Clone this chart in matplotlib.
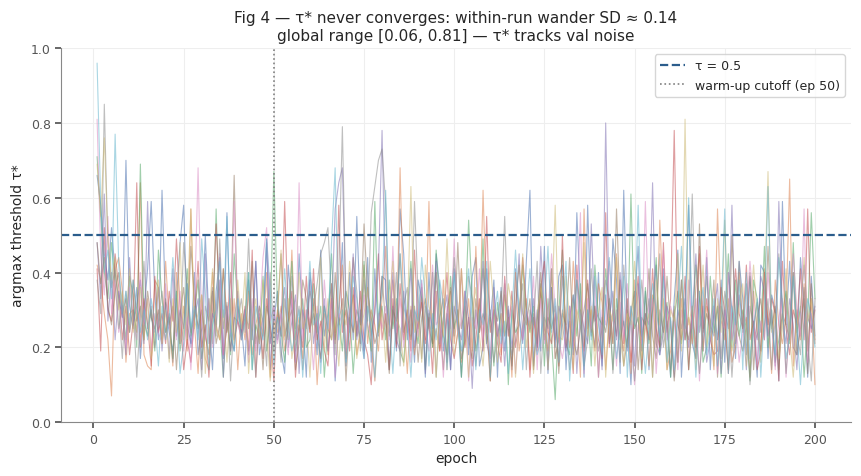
import matplotlib
matplotlib.use("Agg")
import matplotlib.pyplot as plt
import numpy as np
import seaborn as sns

# tau* per epoch for each of the 10 runs, in hundredths
run_0 = [66, 58, 45, 38, 52, 40, 33, 28, 70, 31, 25, 36, 17, 29, 41, 59, 34, 22, 62, 30,
         24, 19, 33, 48, 58, 26, 21, 40, 18, 25, 50, 27, 14, 35, 44, 17, 56, 23, 19, 31,
         26, 15, 38, 22, 43, 18, 24, 49, 21, 27, 35, 19, 13, 42, 30, 16, 45, 28, 12, 40,
         31, 18, 46, 23, 29, 37, 11, 27, 48, 15, 40, 22, 55, 28, 19, 44, 16, 41, 23, 39,
         38, 14, 31, 19, 57, 45, 22, 30, 16, 38, 33, 12, 40, 21, 45, 36, 19, 29, 14, 41,
         27, 12, 35, 18, 39, 44, 15, 20, 41, 27, 38, 12, 36, 19, 30, 14, 41, 28, 21, 43,
         62, 15, 30, 19, 47, 13, 36, 20, 39, 42, 14, 31, 18, 56, 33, 12, 58, 27, 20, 40,
         15, 34, 21, 49, 38, 13, 62, 26, 10, 31, 47, 19, 35, 14, 30, 42, 18, 41, 25, 12,
         33, 46, 12, 30, 58, 21, 17, 35, 19, 44, 14, 31, 22, 38, 16, 40, 30, 17, 43, 33,
         18, 39, 25, 12, 42, 40, 17, 34, 30, 11, 59, 26, 43, 20, 18, 44, 31, 12, 39, 23]
run_1 = [42, 38, 29, 22, 7, 41, 44, 35, 16, 29, 30, 24, 64, 18, 15, 14, 38, 36, 22, 43,
         27, 15, 40, 21, 31, 19, 57, 26, 13, 34, 17, 14, 40, 26, 22, 41, 28, 19, 33, 14,
         29, 22, 35, 18, 26, 31, 23, 40, 12, 27, 24, 31, 19, 25, 46, 22, 28, 17, 30, 24,
         33, 10, 26, 29, 18, 37, 24, 31, 42, 17, 29, 34, 18, 25, 42, 21, 30, 26, 19, 33,
         47, 24, 38, 21, 68, 29, 13, 31, 18, 26, 33, 22, 59, 20, 25, 19, 38, 14, 35, 21,
         30, 16, 22, 33, 19, 47, 24, 62, 29, 11, 31, 25, 18, 34, 27, 12, 40, 19, 26, 33,
         14, 29, 21, 36, 25, 19, 41, 17, 23, 30, 26, 20, 43, 28, 12, 57, 25, 30, 19, 37,
         32, 14, 28, 21, 45, 26, 19, 30, 13, 38, 27, 22, 29, 15, 34, 20, 54, 31, 14, 19,
         30, 16, 33, 22, 28, 21, 36, 45, 19, 31, 27, 14, 57, 29, 22, 33, 16, 20, 40, 25,
         28, 12, 35, 24, 19, 41, 27, 13, 38, 26, 21, 29, 65, 15, 30, 22, 37, 19, 33, 10]
run_2 = [71, 55, 40, 33, 48, 37, 25, 31, 22, 39, 34, 20, 69, 27, 23, 30, 19, 46, 33, 24,
         28, 17, 35, 19, 26, 41, 23, 29, 38, 17, 24, 33, 21, 57, 26, 12, 30, 18, 45, 31,
         23, 28, 40, 14, 26, 22, 39, 19, 27, 67, 31, 24, 16, 28, 43, 19, 26, 33, 20, 22,
         37, 24, 31, 12, 26, 45, 22, 28, 19, 35, 30, 13, 27, 21, 43, 26, 19, 59, 24, 31,
         22, 38, 25, 33, 19, 16, 30, 43, 27, 21, 36, 14, 29, 20, 46, 31, 23, 18, 39, 25,
         30, 12, 27, 54, 33, 19, 26, 49, 21, 28, 15, 32, 23, 37, 10, 30, 24, 26, 42, 29,
         24, 31, 20, 37, 15, 33, 22, 6, 29, 46, 21, 18, 34, 23, 37, 20, 30, 15, 42, 28,
         26, 41, 29, 14, 33, 22, 27, 20, 61, 25, 28, 13, 36, 21, 30, 44, 19, 27, 32, 12,
         28, 35, 21, 30, 14, 27, 42, 33, 16, 20, 39, 24, 31, 12, 27, 45, 20, 38, 23, 30,
         25, 11, 38, 33, 24, 47, 20, 30, 16, 22, 29, 35, 21, 48, 24, 31, 12, 27, 56, 33]
run_3 = [41, 19, 52, 30, 27, 45, 36, 22, 31, 18, 27, 64, 20, 33, 26, 15, 39, 24, 29, 21,
         35, 27, 49, 31, 14, 22, 16, 28, 43, 20, 26, 12, 29, 53, 31, 18, 25, 40, 22, 27,
         24, 31, 19, 46, 12, 29, 17, 33, 25, 11, 30, 23, 59, 27, 35, 12, 26, 20, 39, 24,
         41, 22, 27, 19, 15, 33, 21, 58, 24, 30, 19, 36, 23, 35, 22, 18, 10, 31, 45, 22,
         29, 14, 33, 20, 37, 22, 30, 19, 46, 25, 32, 21, 28, 13, 35, 19, 26, 40, 22, 17,
         24, 41, 20, 28, 15, 22, 33, 19, 55, 24, 30, 21, 16, 39, 23, 35, 20, 27, 44, 31,
         12, 28, 19, 36, 43, 24, 21, 29, 15, 50, 20, 27, 13, 42, 26, 19, 38, 24, 31, 22,
         17, 56, 20, 30, 23, 38, 21, 33, 16, 29, 39, 14, 27, 22, 41, 25, 20, 48, 24, 33,
         78, 26, 22, 39, 14, 31, 20, 47, 25, 33, 22, 18, 19, 36, 30, 13, 27, 41, 29, 25,
         42, 22, 27, 14, 19, 40, 26, 33, 29, 11, 43, 25, 18, 30, 26, 41, 22, 57, 24, 30]
run_4 = [48, 33, 61, 27, 40, 22, 35, 29, 18, 44, 26, 31, 38, 21, 59, 28, 24, 36, 19, 32,
         17, 41, 23, 30, 25, 37, 20, 28, 33, 14, 45, 21, 29, 26, 38, 12, 31, 19, 27, 35,
         23, 30, 18, 26, 43, 21, 28, 48, 14, 31, 22, 29, 36, 20, 27, 34, 13, 30, 25, 38,
         21, 29, 16, 33, 19, 28, 57, 64, 68, 31, 24, 45, 22, 30, 17, 36, 23, 29, 41, 78,
         33, 26, 40, 22, 19, 35, 24, 41, 20, 27, 38, 13, 30, 25, 43, 21, 28, 34, 14, 31,
         26, 22, 35, 28, 9, 30, 24, 43, 21, 17, 36, 23, 29, 15, 31, 20, 28, 45, 22, 30,
         25, 33, 20, 47, 29, 14, 36, 22, 31, 26, 19, 28, 34, 13, 30, 25, 21, 53, 27, 29,
         14, 80, 28, 35, 22, 40, 26, 19, 31, 15, 37, 23, 29, 26, 64, 21, 18, 24, 31, 27,
         12, 30, 25, 33, 20, 28, 45, 24, 31, 16, 22, 29, 37, 13, 30, 25, 58, 21, 34, 27,
         14, 31, 26, 22, 39, 35, 23, 30, 15, 59, 28, 21, 33, 26, 14, 30, 42, 28, 25, 31]
run_5 = [48, 37, 44, 31, 26, 35, 40, 29, 33, 24, 38, 27, 31, 22, 35, 28, 25, 30, 21, 33,
         26, 31, 14, 29, 36, 22, 47, 33, 25, 30, 23, 18, 35, 21, 26, 41, 24, 29, 66, 27,
         22, 30, 25, 43, 21, 28, 14, 31, 26, 19, 29, 45, 23, 27, 30, 14, 21, 38, 33, 25,
         29, 23, 17, 31, 25, 22, 40, 26, 33, 11, 28, 24, 30, 26, 53, 35, 28, 21, 25, 39,
         26, 13, 30, 27, 45, 24, 29, 22, 31, 16, 28, 33, 25, 21, 40, 27, 14, 29, 36, 23,
         48, 25, 31, 22, 17, 33, 24, 29, 26, 11, 30, 27, 35, 23, 28, 15, 31, 42, 29, 26,
         33, 14, 27, 40, 22, 28, 25, 31, 13, 29, 26, 44, 22, 18, 25, 30, 37, 23, 31, 12,
         28, 24, 33, 21, 57, 30, 15, 22, 29, 35, 14, 28, 26, 41, 23, 17, 30, 24, 39, 25,
         11, 23, 38, 26, 22, 30, 17, 53, 24, 29, 25, 38, 12, 31, 26, 14, 50, 27, 23, 19,
         26, 40, 14, 28, 33, 22, 47, 25, 31, 14, 29, 26, 22, 40, 18, 25, 33, 13, 37, 21]
run_6 = [81, 45, 34, 55, 29, 38, 24, 31, 20, 36, 27, 22, 40, 26, 33, 19, 29, 24, 21, 37,
         25, 30, 22, 35, 19, 28, 14, 31, 68, 26, 22, 33, 20, 29, 45, 18, 31, 24, 59, 27,
         22, 30, 16, 33, 19, 28, 44, 52, 27, 31, 21, 29, 25, 18, 33, 16, 64, 22, 30, 27,
         14, 31, 20, 38, 25, 33, 12, 29, 26, 19, 30, 44, 28, 21, 34, 26, 23, 11, 29, 25,
         31, 22, 47, 24, 33, 20, 29, 16, 30, 23, 37, 25, 19, 42, 26, 28, 12, 31, 25, 49,
         23, 27, 35, 11, 28, 25, 41, 22, 29, 16, 33, 24, 20, 38, 25, 31, 13, 27, 22, 30,
         26, 39, 14, 33, 21, 28, 45, 30, 22, 17, 24, 31, 20, 29, 56, 13, 33, 25, 38, 12,
         30, 26, 43, 29, 15, 32, 22, 37, 24, 10, 26, 21, 59, 25, 33, 13, 28, 46, 22, 31,
         27, 14, 30, 22, 38, 25, 33, 11, 29, 46, 24, 31, 13, 27, 25, 40, 22, 28, 16, 24,
         29, 43, 31, 15, 27, 22, 40, 26, 14, 28, 33, 12, 27, 45, 30, 23, 57, 16, 29, 22]
run_7 = [38, 29, 85, 47, 36, 41, 31, 17, 35, 24, 30, 12, 28, 43, 25, 31, 20, 27, 35, 24,
         29, 16, 33, 21, 48, 35, 24, 30, 26, 12, 31, 27, 36, 23, 49, 25, 32, 11, 28, 27,
         33, 24, 49, 26, 12, 31, 27, 15, 40, 23, 28, 16, 33, 22, 39, 25, 31, 14, 27, 35,
         30, 37, 45, 48, 52, 33, 18, 40, 79, 31, 26, 44, 35, 19, 38, 27, 56, 63, 70, 73,
         58, 23, 28, 40, 15, 31, 36, 23, 59, 34, 17, 31, 25, 40, 12, 28, 33, 16, 29, 44,
         31, 17, 22, 39, 33, 15, 28, 41, 24, 30, 16, 23, 29, 55, 25, 18, 22, 31, 37, 14,
         30, 26, 43, 13, 28, 25, 41, 17, 22, 39, 26, 14, 24, 38, 30, 15, 22, 41, 27, 19,
         25, 38, 33, 13, 30, 16, 42, 29, 27, 11, 24, 38, 26, 33, 12, 29, 45, 20, 27, 14,
         31, 16, 38, 22, 30, 61, 24, 13, 25, 39, 26, 23, 31, 17, 35, 29, 12, 28, 43, 24,
         37, 10, 25, 32, 19, 26, 33, 14, 28, 45, 31, 13, 27, 40, 24, 18, 36, 22, 11, 33]
run_8 = [69, 55, 76, 49, 38, 44, 30, 35, 26, 41, 24, 29, 36, 22, 33, 17, 24, 38, 21, 30,
         16, 33, 24, 48, 22, 31, 57, 25, 29, 34, 13, 27, 41, 25, 22, 30, 16, 33, 21, 38,
         25, 40, 13, 27, 33, 21, 38, 25, 11, 24, 29, 46, 22, 33, 17, 24, 40, 25, 28, 12,
         31, 27, 44, 19, 33, 22, 28, 15, 30, 26, 43, 31, 17, 24, 29, 36, 22, 11, 25, 30,
         16, 32, 43, 28, 25, 15, 27, 63, 24, 29, 16, 42, 31, 27, 12, 33, 23, 49, 26, 18,
         24, 41, 27, 12, 29, 36, 23, 15, 28, 43, 30, 16, 29, 24, 37, 31, 12, 28, 45, 20,
         27, 13, 29, 36, 31, 14, 28, 58, 23, 22, 39, 27, 14, 30, 26, 48, 23, 31, 15, 29,
         36, 12, 30, 27, 44, 23, 15, 29, 26, 43, 31, 17, 25, 29, 12, 38, 26, 33, 14, 30,
         27, 45, 19, 81, 26, 31, 14, 28, 42, 20, 27, 15, 33, 24, 54, 26, 19, 23, 31, 37,
         15, 29, 42, 28, 16, 33, 67, 24, 29, 17, 25, 41, 23, 12, 26, 30, 44, 27, 33, 22]
run_9 = [96, 59, 40, 46, 33, 77, 42, 29, 35, 26, 38, 31, 24, 30, 22, 33, 27, 15, 31, 22,
         28, 44, 30, 13, 21, 37, 25, 31, 22, 49, 35, 14, 26, 30, 43, 28, 55, 25, 19, 33,
         22, 27, 40, 14, 31, 26, 22, 49, 35, 15, 28, 23, 41, 26, 19, 24, 30, 12, 27, 43,
         26, 29, 13, 31, 25, 48, 68, 22, 30, 16, 24, 39, 33, 23, 17, 31, 25, 12, 29, 34,
         62, 27, 13, 29, 45, 31, 26, 12, 30, 27, 44, 33, 15, 29, 22, 38, 31, 14, 27, 40,
         25, 19, 33, 41, 27, 14, 30, 26, 43, 12, 28, 35, 21, 27, 13, 29, 46, 30, 14, 28,
         41, 25, 18, 22, 30, 47, 24, 33, 16, 29, 43, 11, 25, 38, 27, 14, 30, 22, 39, 26,
         18, 33, 44, 30, 17, 25, 39, 12, 31, 26, 58, 24, 13, 25, 37, 30, 23, 39, 16, 28,
         14, 31, 47, 25, 60, 29, 12, 30, 36, 18, 24, 33, 15, 29, 57, 13, 31, 26, 38, 14,
         40, 17, 25, 33, 12, 29, 63, 26, 18, 44, 31, 17, 23, 39, 25, 10, 26, 33, 28, 20]

runs = [run_0, run_1, run_2, run_3, run_4, run_5, run_6, run_7, run_8, run_9]
epochs = np.arange(1, 201)
tau_ref = 0.5
warmup = 50

sns.set_theme(style="whitegrid")
plt.rcParams['font.family'] = ['DejaVu Sans']
colors = sns.color_palette("deep", 10)

fig, ax = plt.subplots(figsize=(8.62, 4.77), dpi=100)
for i, r in enumerate(runs):
    ax.plot(epochs, np.array(r) / 100.0, color=colors[i], lw=0.8, alpha=0.55)

ax.axhline(tau_ref, color="#2b5d8c", ls="--", lw=1.6, label="τ = 0.5")
ax.axvline(warmup, color="gray", ls=":", lw=1.2, label="warm-up cutoff (ep 50)")

ax.set_ylim(0, 1)
ax.set_xlabel("epoch", fontsize=10)
ax.set_ylabel("argmax threshold τ*", fontsize=10)
ax.set_title("Fig 4 — τ* never converges: within-run wander SD ≈ 0.14\n"
             "global range [0.06, 0.81] — τ* tracks val noise", fontsize=11)
ax.tick_params(labelsize=9, colors="#555555", length=4, left=True, bottom=True)
ax.grid(True, color="#eeeeee", lw=0.8)
for s in ["top", "right"]:
    ax.spines[s].set_visible(False)
for s in ["left", "bottom"]:
    ax.spines[s].set_color("#888888")
    ax.spines[s].set_linewidth(0.8)
ax.legend(loc="upper right", fontsize=9, frameon=True)

fig.subplots_adjust(left=0.071, right=0.987, top=0.897, bottom=0.113)
fig.savefig("out.png", dpi=100)
